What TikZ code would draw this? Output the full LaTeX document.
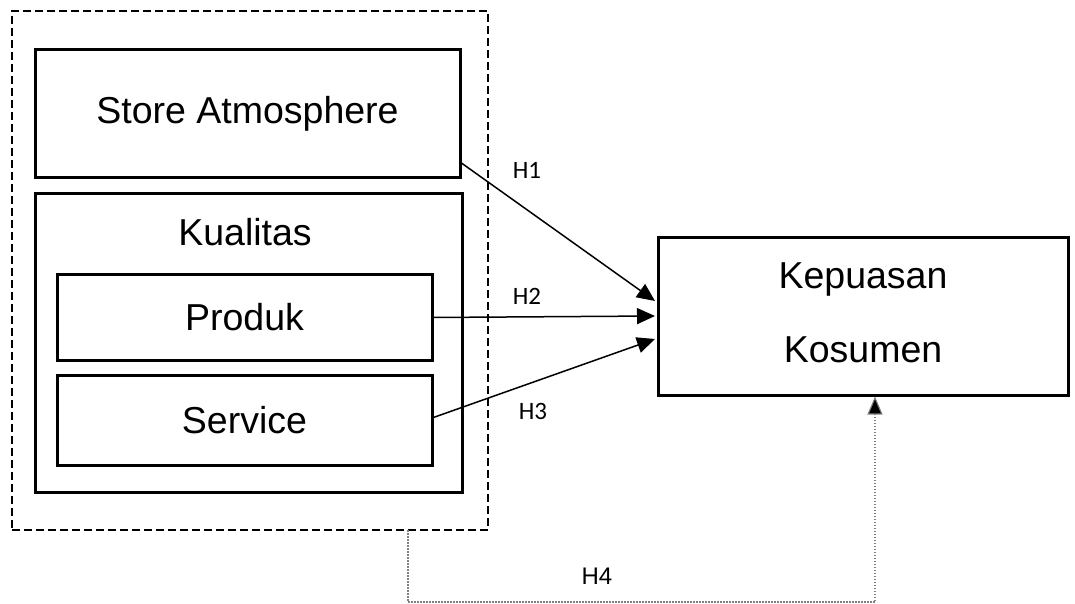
\documentclass[tikz,border=0pt]{standalone}
\usepackage{fontspec}
\setmainfont{Liberation Sans}
\newfontfamily\hfont{Carlito}
\usetikzlibrary{arrows.meta,calc}
\tikzset{
  box/.style={draw=black, line width=3pt, inner sep=0pt, outer sep=0pt, fill=white},
  grpbox/.style={draw=black, line width=2.6pt, dash pattern=on 8pt off 4pt, inner sep=0pt, outer sep=0pt},
  big/.style={font=\fontsize{37.5}{45}\selectfont, inner sep=0pt},
  hlab/.style={font=\hfont\fontsize{25}{30}\selectfont, inner sep=0pt},
  hlabb/.style={font=\fontsize{24}{29}\selectfont, inner sep=0pt},
  arr/.style={line width=1.5pt, -{Triangle[length=18pt,width=16pt]}},
  dotarr/.style={line width=1.1pt, gray, dash pattern=on 1.5pt off 1.5pt, -{Triangle[length=18pt,width=15pt,fill=black]}}
}
\begin{document}
\begin{tikzpicture}[x=1pt,y=-1pt]
\useasboundingbox (0,0) rectangle (1075,604);
\node[grpbox, minimum width=476pt, minimum height=519pt] (grp) at (250,270.5) {};
\node[box, big, minimum width=425pt, minimum height=128pt] (sa) at (247.5,114) {Store Atmosphere};
\node[box, minimum width=427pt, minimum height=299pt] (kq) at (248.5,342.5) {};
\node[big] (kqt) at (245,232) {Kualitas};
\node[box, big, minimum width=375pt, minimum height=86pt] (pr) at (244.5,317.5) {Produk};
\node[box, big, minimum width=375pt, minimum height=90pt] (sv) at (244.5,420) {Service};
\node[box, minimum width=410pt, minimum height=158pt] (kk) at (863,316) {};
\node[big] (kk1) at (863,279) {Kepuasan};
\node[big] (kk2) at (863,350) {Kosumen};
\draw[arr] ($(sa.south east)+(0,-16)$) -- ($(kk.west)+(-3,-15)$);
\draw[arr] (pr.east) -- ($(kk.west)+(-3,0)$);
\draw[arr] ($(sv.east)+(0,-2)$) -- ($(kk.west)+(-3,23)$);
\coordinate (h4x) at (408,0);
\coordinate (k4x) at (875,0);
\draw[dotarr] (grp.south -| h4x) -- ++(0,72) -| ($(kk.south -| k4x)+(0,1.5)$);
\node[hlab] (h1) at (527,170) {H1};
\node[hlab] (h2) at (527,296) {H2};
\node[hlab] (h3) at (533,411) {H3};
\node[hlabb] (h4) at (597,576) {H4};
\end{tikzpicture}
\end{document}
